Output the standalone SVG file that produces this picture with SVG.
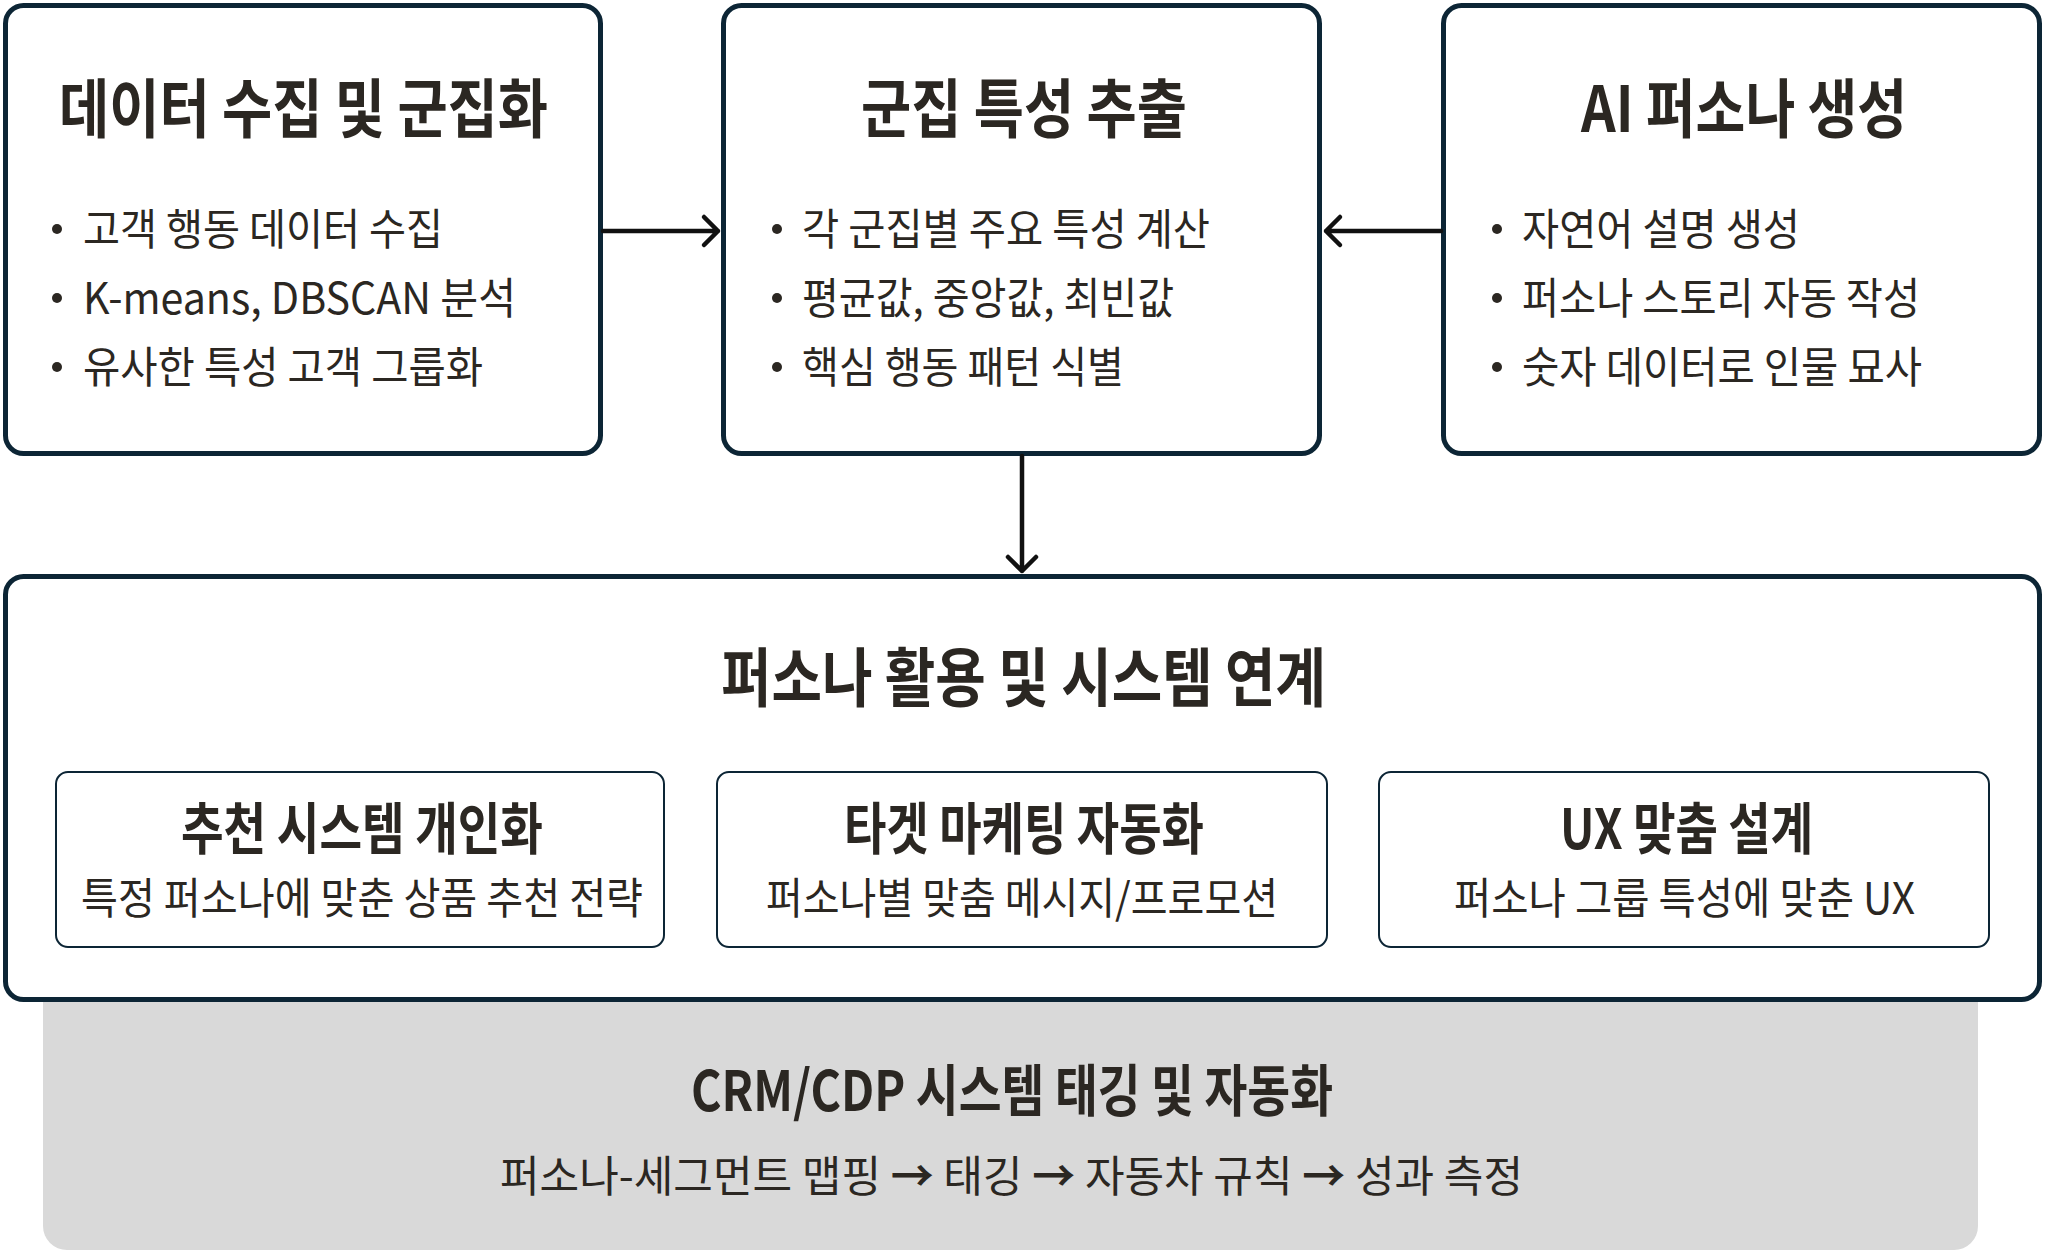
<svg xmlns="http://www.w3.org/2000/svg" width="2045" height="1253" viewBox="0 0 2045 1253">
<defs>
<style>
.box{fill:#ffffff;stroke:#0c2535;stroke-width:5}
.sub{fill:#ffffff;stroke:#0c2535;stroke-width:2}
.t{font-family:"Noto Sans CJK KR","Noto Sans",sans-serif;fill:#2b2722}
.h1{font-size:64px;font-weight:700}
.h2{font-size:56px;font-weight:700}
.b{font-size:43px;font-weight:400}
.ar{font-weight:700}
.dot{fill:#2b2722}
.con{stroke:#111111;stroke-width:4.5;fill:none;stroke-linecap:round;stroke-linejoin:round}
</style>
</defs>
<rect x="0" y="0" width="2045" height="1253" fill="#ffffff"/>

<g id="crm">
<rect x="43" y="960" width="1935" height="290" rx="24" fill="#d9d9d9"/>
<text class="t h2" x="691" y="1111" textLength="642" lengthAdjust="spacingAndGlyphs">CRM/CDP 시스템 태깅 및 자동화</text>
<text class="t b" x="500" y="1192" textLength="1023" lengthAdjust="spacingAndGlyphs">퍼소나-세그먼트 맵핑 <tspan class="ar">→</tspan> 태깅 <tspan class="ar">→</tspan> 자동차 규칙 <tspan class="ar">→</tspan> 성과 측정</text>
</g>

<g id="collect">
<rect class="box" x="5.5" y="5.5" width="595" height="448" rx="18"/>
<text class="t h1" x="59" y="132" textLength="489" lengthAdjust="spacingAndGlyphs">데이터 수집 및 군집화</text>
<circle class="dot" cx="57" cy="229" r="5"/>
<circle class="dot" cx="57" cy="298" r="5"/>
<circle class="dot" cx="57" cy="367" r="5"/>
<text class="t b" x="83" y="245" textLength="360" lengthAdjust="spacingAndGlyphs">고객 행동 데이터 수집</text>
<text class="t b" x="83" y="314" textLength="433" lengthAdjust="spacingAndGlyphs">K-means, DBSCAN 분석</text>
<text class="t b" x="83" y="383" textLength="400" lengthAdjust="spacingAndGlyphs">유사한 특성 고객 그룹화</text>
</g>

<g id="extract">
<rect class="box" x="723.5" y="5.5" width="596" height="448" rx="18"/>
<text class="t h1" x="861" y="132" textLength="326" lengthAdjust="spacingAndGlyphs">군집 특성 추출</text>
<circle class="dot" cx="777" cy="229" r="5"/>
<circle class="dot" cx="777" cy="298" r="5"/>
<circle class="dot" cx="777" cy="367" r="5"/>
<text class="t b" x="802" y="245" textLength="408" lengthAdjust="spacingAndGlyphs">각 군집별 주요 특성 계산</text>
<text class="t b" x="802" y="314" textLength="372" lengthAdjust="spacingAndGlyphs">평균값, 중앙값, 최빈값</text>
<text class="t b" x="802" y="383" textLength="322" lengthAdjust="spacingAndGlyphs">핵심 행동 패턴 식별</text>
</g>

<g id="persona">
<rect class="box" x="1443.5" y="5.5" width="596" height="448" rx="18"/>
<text class="t h1" x="1581" y="132" textLength="326" lengthAdjust="spacingAndGlyphs">AI 퍼소나 생성</text>
<circle class="dot" cx="1497" cy="229" r="5"/>
<circle class="dot" cx="1497" cy="298" r="5"/>
<circle class="dot" cx="1497" cy="367" r="5"/>
<text class="t b" x="1522" y="245" textLength="278" lengthAdjust="spacingAndGlyphs">자연어 설명 생성</text>
<text class="t b" x="1522" y="314" textLength="398" lengthAdjust="spacingAndGlyphs">퍼소나 스토리 자동 작성</text>
<text class="t b" x="1522" y="383" textLength="400" lengthAdjust="spacingAndGlyphs">숫자 데이터로 인물 묘사</text>
</g>

<g id="usage">
<rect class="box" x="5.5" y="576.5" width="2034" height="423" rx="18"/>
<text class="t h1" x="721" y="701" textLength="605" lengthAdjust="spacingAndGlyphs">퍼소나 활용 및 시스템 연계</text>
</g>

<g id="recommend">
<rect class="sub" x="56" y="772" width="608" height="175" rx="12"/>
<text class="t h2" x="181" y="849" textLength="362" lengthAdjust="spacingAndGlyphs">추천 시스템 개인화</text>
<text class="t b" x="81" y="914" textLength="562" lengthAdjust="spacingAndGlyphs">특정 퍼소나에 맞춘 상품 추천 전략</text>
</g>

<g id="marketing">
<rect class="sub" x="717" y="772" width="610" height="175" rx="12"/>
<text class="t h2" x="844" y="849" textLength="360" lengthAdjust="spacingAndGlyphs">타겟 마케팅 자동화</text>
<text class="t b" x="766" y="914" textLength="512" lengthAdjust="spacingAndGlyphs">퍼소나별 맞춤 메시지/프로모션</text>
</g>

<g id="ux">
<rect class="sub" x="1379" y="772" width="610" height="175" rx="12"/>
<text class="t h2" x="1560" y="849" textLength="253" lengthAdjust="spacingAndGlyphs">UX 맞춤 설계</text>
<text class="t b" x="1454" y="914" textLength="461" lengthAdjust="spacingAndGlyphs">퍼소나 그룹 특성에 맞춘 UX</text>
</g>

<g id="connectors">
<path class="con" d="M603 231 H718 M704 217 L718 231 L704 245"/>
<path class="con" d="M1441 231 H1326 M1340 217 L1326 231 L1340 245"/>
<path class="con" d="M1022 456 V571 M1008 557 L1022 571 L1036 557"/>
</g>
</svg>
